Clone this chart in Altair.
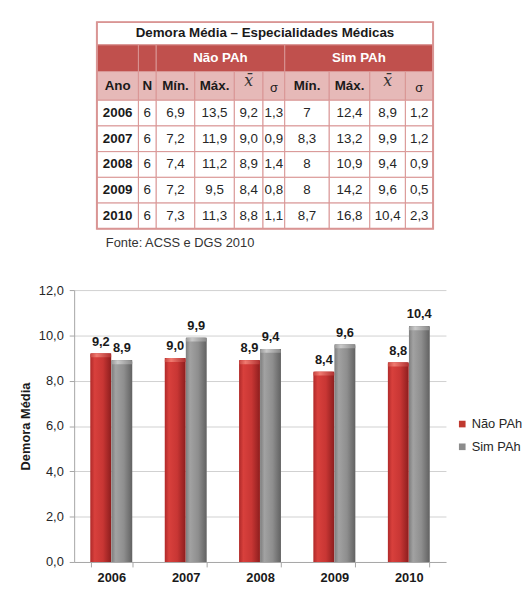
import altair as alt
import pandas as pd

# ---------------- data ----------------
YEARS = ["2006", "2007", "2008", "2009", "2010"]
N_OBS = ["6", "6", "6", "6", "6"]
NAO_MIN = ["6,9", "7,2", "7,4", "7,2", "7,3"]
NAO_MAX = ["13,5", "11,9", "11,2", "9,5", "11,3"]
NAO_MEAN = ["9,2", "9,0", "8,9", "8,4", "8,8"]
NAO_SD = ["1,3", "0,9", "1,4", "0,8", "1,1"]
SIM_MIN = ["7", "8,3", "8", "8", "8,7"]
SIM_MAX = ["12,4", "13,2", "10,9", "14,2", "16,8"]
SIM_MEAN = ["8,9", "9,9", "9,4", "9,6", "10,4"]
SIM_SD = ["1,2", "1,2", "0,9", "0,5", "2,3"]

SERIES = ["Não PAh", "Sim PAh"]
NAO_PAH = [9.2, 9.0, 8.9, 8.4, 8.8]
SIM_PAH = [8.9, 9.9, 9.4, 9.6, 10.4]
Y_TICKS = [0, 2, 4, 6, 8, 10, 12]

TABLE_TITLE = "Demora Média – Especialidades Médicas"
SUB_HEADERS = ["Ano", "N", "Mín.", "Máx.", "x\u0304", "σ", "Mín.", "Máx.", "x\u0304", "σ"]
SOURCE = "Fonte: ACSS e DGS 2010"
Y_TITLE = "Demora Média"

# ---------------- layout / style ----------------
FONT = "Liberation Sans"
COL_W = [42, 18, 39, 40, 29, 22, 45, 41, 36, 28]
ROW_H = [23, 27, 29, 26, 26, 26, 26, 26]
TABLE_X0 = 23
PLOT_W = 376
BAR_H = 275
CAP = 0.17  # bevel height in data units (style)
H1 = "#C0504D"
H2 = "#E6B9B8"
BORDER = "#D99594"
TXT = "#1A1A1A"

xs = [TABLE_X0]
for w in COL_W:
    xs.append(xs[-1] + w)
ys = [0]
for h in ROW_H:
    ys.append(ys[-1] + h)
TABLE_H = ys[-1]

cells = []


def add(c0, c1, r, text, fill, style):
    cells.append(dict(x=xs[c0], x2=xs[c1], y=ys[r], y2=ys[r + 1],
                      xc=(xs[c0] + xs[c1]) / 2, yc=(ys[r] + ys[r + 1]) / 2,
                      text=text, fill=fill, style=style))


add(0, 10, 0, TABLE_TITLE, "#FFFFFF", "title")
add(0, 1, 1, "", H1, "white")
add(1, 2, 1, "", H1, "white")
add(2, 6, 1, SERIES[0], H1, "white")
add(6, 10, 1, SERIES[1], H1, "white")
for j, h in enumerate(SUB_HEADERS):
    st = "math" if h.startswith("x") else ("sigma" if h == "σ" else "bold")
    add(j, j + 1, 2, h, H2, st)
rows = list(zip(YEARS, N_OBS, NAO_MIN, NAO_MAX, NAO_MEAN, NAO_SD,
                SIM_MIN, SIM_MAX, SIM_MEAN, SIM_SD))
for i, row in enumerate(rows):
    for j, v in enumerate(row):
        add(j, j + 1, 3 + i, v, "#FFFFFF", "bold" if j == 0 else "regular")
cells_df = pd.DataFrame(cells)
outer_df = pd.DataFrame([dict(x=xs[0], x2=xs[-1], y=ys[0], y2=ys[-1])])

tx_scale = alt.Scale(domain=[0, PLOT_W], nice=False, zero=False)
ty_scale = alt.Scale(domain=[0, TABLE_H], nice=False, zero=False, reverse=True)

rects = alt.Chart(cells_df).mark_rect(stroke=BORDER, strokeWidth=1).encode(
    x=alt.X("x:Q", scale=tx_scale, axis=None),
    x2="x2:Q",
    y=alt.Y("y:Q", scale=ty_scale, axis=None),
    y2="y2:Q",
    fill=alt.Fill("fill:N", scale=None),
)
outer = alt.Chart(outer_df).mark_rect(stroke=BORDER, strokeWidth=2, fillOpacity=0).encode(
    x=alt.X("x:Q", scale=tx_scale, axis=None),
    x2="x2:Q",
    y=alt.Y("y:Q", scale=ty_scale, axis=None),
    y2="y2:Q",
)


def text_layer(style, **kw):
    return alt.Chart(cells_df).transform_filter(
        alt.datum.style == style
    ).mark_text(baseline="middle", align="center", **kw).encode(
        x=alt.X("xc:Q", scale=tx_scale, axis=None),
        y=alt.Y("yc:Q", scale=ty_scale, axis=None),
        text="text:N",
    )


texts = [
    text_layer("title", font=FONT, fontSize=13.5, fontWeight="bold", color=TXT),
    text_layer("white", font=FONT, fontSize=13.5, fontWeight="bold", color="#FFFFFF"),
    text_layer("bold", font=FONT, fontSize=13.5, fontWeight="bold", color=TXT),
    text_layer("regular", font=FONT, fontSize=13.5, color="#262626"),
    text_layer("math", font="DejaVu Serif", fontSize=16, fontStyle="italic", color="#333333", dy=-5),
    text_layer("sigma", font=FONT, fontSize=13, color=TXT, dy=2),
]

table = alt.layer(rects, *texts, outer).properties(
    width=PLOT_W, height=TABLE_H,
    title=alt.TitleParams(SOURCE, orient="bottom", anchor="start", dx=32, offset=7,
                          font=FONT, fontSize=13, fontWeight="normal", color="#333333"),
)

# ---------------- bar chart ----------------
bars_df = pd.DataFrame({
    "year": YEARS * 2,
    "series": [SERIES[0]] * len(YEARS) + [SERIES[1]] * len(YEARS),
    "value": NAO_PAH + SIM_PAH,
})
bars_df["label"] = bars_df["value"].map(lambda v: f"{v:.1f}".replace(".", ","))

x_enc = alt.X("year:N", title=None, sort=YEARS,
              scale=alt.Scale(paddingInner=0.44, paddingOuter=0.22),
              axis=alt.Axis(labelAngle=0, labelFontWeight="bold", labelFontSize=13,
                            labelPadding=5, tickBand="extent", tickSize=5, grid=False,
                            labelColor=TXT))
xo_enc = alt.XOffset("series:N", sort=SERIES, scale=alt.Scale(domain=SERIES, paddingInner=0.02))
y_enc = alt.Y("value:Q", title=Y_TITLE,
              scale=alt.Scale(domain=[0, 12], nice=False),
              axis=alt.Axis(values=Y_TICKS,
                            labelExpr="replace(format(datum.value, '.1f'), '.', ',')",
                            labelFontSize=13, labelPadding=6, tickSize=5,
                            titleFontSize=13, titleFontWeight="bold", titlePadding=6,
                            titleColor=TXT, labelColor="#262626"))

base = alt.Chart(bars_df).mark_bar().encode(
    x=x_enc, xOffset=xo_enc, y=y_enc,
    color=alt.Color("series:N", sort=SERIES,
                    scale=alt.Scale(domain=SERIES, range=["#C0392F", "#8C8C8C"]),
                    legend=alt.Legend(title=None, orient="none", legendX=386, legendY=400,
                                      symbolType="square", symbolSize=45, labelFontSize=13,
                                      labelFont=FONT, labelColor="#262626", rowPadding=9,
                                      symbolStrokeWidth=0, labelOffset=3)),
)

RED_GRAD = alt.Gradient(gradient="linear", x1=0, x2=1, y1=0, y2=0, stops=[
    alt.GradientStop(offset=0, color="#B02A2A"),
    alt.GradientStop(offset=0.2, color="#D8403C"),
    alt.GradientStop(offset=0.6, color="#C83634"),
    alt.GradientStop(offset=1, color="#8E1E1E"),
])
GRAY_GRAD = alt.Gradient(gradient="linear", x1=0, x2=1, y1=0, y2=0, stops=[
    alt.GradientStop(offset=0, color="#7E7E7E"),
    alt.GradientStop(offset=0.2, color="#A2A2A2"),
    alt.GradientStop(offset=0.6, color="#8E8E8E"),
    alt.GradientStop(offset=1, color="#626262"),
])
RED_CAP = alt.Gradient(gradient="linear", x1=0, x2=1, y1=0, y2=0, stops=[
    alt.GradientStop(offset=0, color="#C84540"),
    alt.GradientStop(offset=0.3, color="#F07A70"),
    alt.GradientStop(offset=1, color="#B03030"),
])
GRAY_CAP = alt.Gradient(gradient="linear", x1=0, x2=1, y1=0, y2=0, stops=[
    alt.GradientStop(offset=0, color="#9A9A9A"),
    alt.GradientStop(offset=0.3, color="#CACACA"),
    alt.GradientStop(offset=1, color="#8A8A8A"),
])


def grad_layer(series, grad):
    return alt.Chart(bars_df).transform_filter(
        alt.datum.series == series
    ).mark_bar(color=grad).encode(x=x_enc, xOffset=xo_enc, y=y_enc)


def cap_layer(series, grad):
    return alt.Chart(bars_df).transform_filter(
        alt.datum.series == series
    ).transform_calculate(
        capbase=f"datum.value - {CAP}"
    ).mark_bar(color=grad, cornerRadiusTopLeft=2, cornerRadiusTopRight=2).encode(
        x=x_enc, xOffset=xo_enc, y=y_enc, y2="capbase:Q")


labels = alt.Chart(bars_df).mark_text(
    baseline="alphabetic", dy=-8, font=FONT, fontSize=13, fontWeight="bold", color=TXT
).encode(x=x_enc, xOffset=xo_enc, y=y_enc, text="label:N")

bars = alt.layer(base, grad_layer(SERIES[0], RED_GRAD), grad_layer(SERIES[1], GRAY_GRAD),
                 cap_layer(SERIES[0], RED_CAP), cap_layer(SERIES[1], GRAY_CAP),
                 labels).properties(width=PLOT_W, height=BAR_H)

chart = alt.vconcat(table, bars, spacing=62, bounds="flush").properties(
    padding={"left": 19, "top": 18, "right": 5, "bottom": 5},
    background="white",
).configure_view(stroke=None).configure_axis(
    labelFont=FONT, titleFont=FONT, domainColor="#A6A6A6", tickColor="#A6A6A6",
    gridColor="#D0D0D0",
)

chart.save("out.html", embed_options={"renderer": "svg", "actions": False})
